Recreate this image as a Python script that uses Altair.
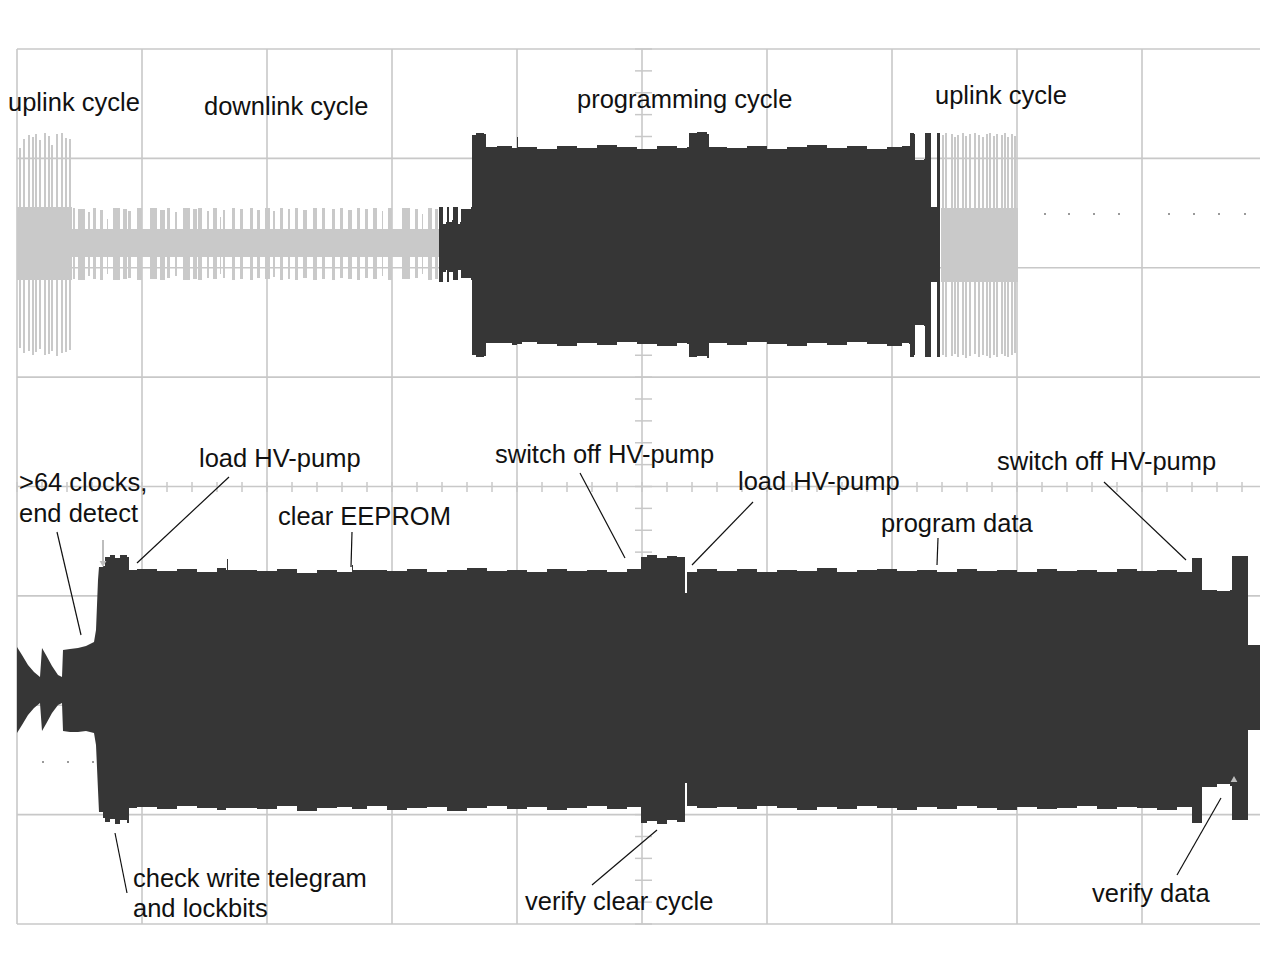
import altair as alt
import pandas as pd

# Oscilloscope record: 125 samples per division (10 divisions shown),
# ADC codes 0..875 across 8 divisions (109.375 per division).
T_VIEW = 1243          # samples visible in the window
A_MAX = 875
DIV_T = 125
DIV_A = 109.375

# ---- Channel 1, gray parts (uplink / downlink) ----
band_t0 = [0, 55, 924]
band_t1 = [55, 422, 1001]
band_lo = [644, 667, 642]
band_hi = [717, 695, 716]

up1_t = [3, 7, 12, 16, 19, 23, 28, 32, 35, 40, 45, 49, 53]
up1_hi = [776, 785, 789, 787, 790, 784, 791, 788, 779, 790, 791, 786, 785]
up1_lo = [576, 571, 573, 569, 572, 575, 569, 570, 573, 568, 571, 572, 574]

up2_t = [926, 929, 935, 938, 941, 946, 949, 953, 958, 962, 966, 970, 973, 977, 980, 985, 988, 991, 995, 998]
up2_hi = [789, 791, 790, 787, 789, 791, 788, 790, 791, 789, 787, 790, 791, 788, 790, 789, 791, 787, 790, 788]
up2_lo = [569, 567, 568, 570, 567, 569, 566, 568, 570, 567, 569, 568, 566, 569, 567, 570, 568, 567, 569, 571]

dl_t0 = [56, 61, 71, 76, 83, 90, 96, 106, 111, 120, 133, 143, 150, 158, 166, 176, 181, 190, 196, 203,
         206, 215, 223, 233, 240, 248, 256, 263, 271, 278, 286, 296, 305, 315, 323, 331, 340, 348, 356, 365,
         371, 385, 398, 405, 411, 418]
dl_t1 = [58, 68, 73, 79, 86, 91, 103, 110, 114, 125, 140, 148, 153, 160, 173, 180, 185, 192, 200, 204,
         208, 218, 226, 236, 243, 253, 258, 266, 273, 281, 290, 300, 308, 318, 326, 335, 343, 351, 360, 366,
         375, 393, 401, 406, 415, 421]
dl_hi = [716, 715, 712, 716, 714, 705, 716, 715, 713, 716, 716, 714, 716, 712, 716, 715, 716, 713, 716, 707,
         714, 716, 715, 716, 714, 716, 713, 716, 715, 716, 714, 716, 716, 715, 716, 714, 716, 715, 716, 713,
         716, 716, 715, 710, 716, 715]
dl_lo = [645, 644, 648, 645, 644, 650, 644, 645, 646, 644, 645, 644, 646, 648, 644, 645, 644, 646, 645, 650,
         646, 644, 645, 644, 646, 645, 647, 644, 645, 644, 646, 644, 645, 644, 646, 645, 644, 646, 645, 648,
         644, 645, 646, 650, 644, 645]

# ---- Channel 1, dark part (programming cycle) envelope ----
ch1_t = [422, 425, 426, 429, 430, 432, 435, 436, 440, 441, 443, 444, 454, 455, 459, 467, 469, 480, 495, 500,
         501, 505, 520, 540, 560, 580, 600, 620, 640, 660, 670, 672, 680, 690, 692, 710, 730, 750, 770, 790, 810,
         830, 850, 870, 885, 892, 893, 897, 898, 907, 908, 913, 914, 919, 920, 923]
ch1_hi = [717, 717, 700, 702, 717, 702, 704, 717, 717, 700, 702, 715, 717, 789, 791, 790, 777, 778, 776, 787,
          777, 777, 775, 778, 776, 779, 777, 775, 778, 776, 777, 791, 792, 790, 777, 776, 778, 775, 777, 779, 776,
          778, 775, 777, 778, 778, 791, 790, 764, 765, 791, 791, 717, 717, 791, 791]
ch1_lo = [642, 642, 652, 654, 642, 652, 652, 644, 644, 654, 654, 646, 644, 569, 567, 568, 581, 581, 579, 580,
          580, 582, 580, 578, 581, 579, 582, 580, 578, 581, 580, 567, 568, 566, 581, 579, 582, 580, 578, 581, 579,
          582, 580, 578, 581, 580, 567, 569, 599, 598, 567, 567, 642, 642, 567, 567]

# ---- Channel 2 envelope: decaying start (linear) ----
ch2a_t = [0, 5, 11, 17, 23, 25, 29, 35, 41, 45, 46, 53, 61, 69, 77, 79, 81, 82]
ch2a_hi = [277, 269, 259, 252, 247, 276, 269, 258, 249, 247, 274, 275, 276, 278, 282, 294, 344, 357]
ch2a_lo = [191, 199, 209, 216, 221, 193, 200, 211, 219, 221, 193, 192, 192, 193, 191, 179, 134, 112]

# ---- Channel 2 envelope: main part (sample-and-hold) ----
ch2_t = [82, 86, 88, 93, 98, 103, 110, 112, 120, 140, 160, 180, 200, 209, 210, 211, 240, 260, 280, 300,
         320, 335, 336, 350, 370, 390, 410, 430, 450, 470, 490, 510, 530, 550, 570, 590, 610, 622, 624, 630,
         640, 650, 660, 666, 668, 670, 680, 700, 720, 740, 760, 780, 800, 820, 840, 860, 880, 900, 920, 940,
         960, 980, 1000, 1020, 1040, 1060, 1080, 1100, 1120, 1140, 1160, 1173, 1175, 1183, 1185, 1200, 1213,
         1215, 1229, 1231, 1244, 1246, 1250]
ch2_hi = [357, 358, 367, 369, 366, 369, 367, 354, 355, 353, 355, 352, 356, 354, 365, 354, 353, 355, 351, 354,
          352, 359, 354, 354, 353, 355, 352, 354, 356, 353, 354, 352, 355, 353, 354, 352, 355, 355, 367, 369,
          366, 368, 367, 367, 331, 352, 355, 353, 355, 352, 354, 353, 356, 352, 354, 355, 353, 354, 352, 355,
          353, 354, 352, 355, 353, 354, 352, 355, 353, 354, 352, 352, 366, 366, 334, 333, 334,
          368, 368, 279, 279, 334, 361]
ch2_lo = [112, 106, 102, 105, 100, 104, 101, 116, 117, 115, 118, 116, 114, 116, 116, 116, 115, 118, 113, 116,
          117, 115, 115, 118, 114, 116, 117, 113, 116, 118, 115, 117, 114, 116, 118, 115, 117, 117, 101, 103,
          100, 104, 102, 102, 141, 118, 116, 117, 115, 118, 116, 114, 117, 115, 118, 116, 114, 117, 115, 118,
          116, 114, 117, 115, 116, 118, 115, 117, 116, 114, 117, 117, 101, 101, 137, 140, 138,
          104, 104, 194, 186, 136, 136]

# ---- Reference-level dots and trigger markers ----
dot_t = [1028, 1052, 1077, 1102, 1152, 1177, 1202, 1228, 26, 51, 76]
dot_a = [710, 710, 710, 710, 710, 710, 710, 710, 162, 162, 162]
trig_t = [86, 1217]
trig_a = [360, 145]
trig_shape = ["triangle-down", "triangle-up"]

# ---- Annotations ----
labels = ["uplink cycle", "downlink cycle", "programming cycle", "uplink cycle",
          "load HV-pump", ">64 clocks,", "end detect", "clear EEPROM",
          "check write telegram", "and lockbits", "switch off HV-pump", "load HV-pump",
          "verify clear cycle", "program data", "switch off HV-pump", "verify data"]
label_t = [-9, 187, 560, 918, 182, 2, 2, 261, 116, 116, 478, 721, 508, 864, 980, 1075]
label_a = [813, 809, 816, 820, 457, 433, 402, 399, 37, 7, 461, 434, 14, 392, 454, 22]

lead_t0 = [40, 212, 335, 98, 563, 736, 575, 921, 1087, 1160]
lead_a0 = [392, 447, 392, 91, 451, 422, 39, 386, 442, 49]
lead_t1 = [64, 120, 334, 110, 608, 675, 640, 920, 1169, 1204]
lead_a1 = [289, 361, 357, 31, 366, 359, 94, 359, 364, 126]

# ---------------- build tables ----------------
band_df = pd.DataFrame({"t0": band_t0, "t1": band_t1, "lo": band_lo, "hi": band_hi})
lines_df = pd.DataFrame({"t": up1_t + up2_t, "hi": up1_hi + up2_hi, "lo": up1_lo + up2_lo})
pulse_df = pd.DataFrame({"t0": dl_t0, "t1": dl_t1, "lo": dl_lo, "hi": dl_hi})
ch1_df = pd.DataFrame({"t": ch1_t, "hi": ch1_hi, "lo": ch1_lo})
ch2a_df = pd.DataFrame({"t": ch2a_t, "hi": ch2a_hi, "lo": ch2a_lo})
ch2_df = pd.DataFrame({"t": ch2_t, "hi": ch2_hi, "lo": ch2_lo})
dot_df = pd.DataFrame({"t": dot_t, "a": dot_a})
trig_df = pd.DataFrame({"t": trig_t, "a": trig_a, "shape": trig_shape})
text_df = pd.DataFrame({"label": labels, "t": label_t, "a": label_a})
lead_df = pd.DataFrame({"t0": lead_t0, "a0": lead_a0, "t1": lead_t1, "a1": lead_a1})

# graticule (structural): division lines and centre ticks every 1/5 division
gridv_df = pd.DataFrame({"t": [i * DIV_T for i in range(10)]})
gridh_df = pd.DataFrame({"a": [i * DIV_A for i in range(9)]})
hticks = pd.DataFrame({"t": [i * DIV_T / 5 for i in range(50)]})
vticks = pd.DataFrame({"a": [i * DIV_A / 5 for i in range(41)]})

xs = alt.Scale(domain=[0, T_VIEW], nice=False, zero=False)
ys = alt.Scale(domain=[0, A_MAX], nice=False, zero=False)

GRID = "#c8c8c8"
GRAY = "#c9c9c9"
DARK = "#363636"
FONT = "Liberation Sans"


def X(field):
    return alt.X(field, type="quantitative", scale=xs, axis=None)


def Y(field):
    return alt.Y(field, type="quantitative", scale=ys, axis=None)


gridv = alt.Chart(gridv_df).mark_rule(color=GRID, strokeWidth=1.6).encode(x=X("t"))
gridh = alt.Chart(gridh_df).mark_rule(color=GRID, strokeWidth=1.6).encode(y=Y("a"))

hline = alt.Chart(hticks).mark_rule(color=GRID, strokeWidth=1.5).encode(
    x=X("t"), y=Y("y0"), y2="y1:Q"
).transform_calculate(y0="432", y1="442")

vline = alt.Chart(vticks).mark_rule(color=GRID, strokeWidth=1.5).encode(
    y=Y("a"), x=X("x0"), x2="x1:Q"
).transform_calculate(x0="618", x1="635")

dots = alt.Chart(dot_df).mark_square(size=4, color="#9a9a9a", opacity=1).encode(x=X("t"), y=Y("a"))

bands = alt.Chart(band_df).mark_rect(color=GRAY).encode(x=X("t0"), x2="t1:Q", y=Y("lo"), y2="hi:Q")
pulses = alt.Chart(pulse_df).mark_rect(color=GRAY).encode(x=X("t0"), x2="t1:Q", y=Y("lo"), y2="hi:Q")
ulines = alt.Chart(lines_df).mark_rule(color=GRAY, strokeWidth=2).encode(x=X("t"), y=Y("lo"), y2="hi:Q")

ch1 = alt.Chart(ch1_df).mark_area(color=DARK, opacity=1, interpolate="step-after").encode(
    x=X("t"), y=Y("hi"), y2="lo:Q")
ch2a = alt.Chart(ch2a_df).mark_area(color=DARK, opacity=1).encode(x=X("t"), y=Y("hi"), y2="lo:Q")
ch2 = alt.Chart(ch2_df).mark_area(color=DARK, opacity=1, interpolate="step-after", clip=True).encode(
    x=X("t"), y=Y("hi"), y2="lo:Q")

trig_stem = alt.Chart(trig_df.iloc[[0]]).mark_rule(color="#bdbdbd", strokeWidth=2).encode(
    x=X("t"), y=Y("a"), y2="top:Q"
).transform_calculate(top="datum.a + 24")
trig = alt.Chart(trig_df).mark_point(filled=True, size=45, color="#bdbdbd", opacity=1).encode(
    x=X("t"), y=Y("a"), shape=alt.Shape("shape:N", scale=None, legend=None)
)

leads = alt.Chart(lead_df).mark_rule(color="#111111", strokeWidth=1.2).encode(
    x=X("t0"), y=Y("a0"), x2="t1:Q", y2="a1:Q"
)
texts = alt.Chart(text_df).mark_text(
    align="left", baseline="alphabetic", font=FONT, fontSize=25.5, color="#111111"
).encode(x=X("t"), y=Y("a"), text="label:N")

chart = alt.layer(
    gridv, gridh, hline, vline, dots, bands, pulses, ulines, ch1, ch2a, ch2,
    trig_stem, trig, leads, texts
).properties(
    width=T_VIEW, height=A_MAX,
    autosize=alt.AutoSizeParams(type="none"),
    padding={"left": 9, "top": 41, "right": 0, "bottom": 20},
    background="white",
).configure_view(strokeWidth=0)

chart.save("out.html", embed_options={"renderer": "svg", "actions": False})
